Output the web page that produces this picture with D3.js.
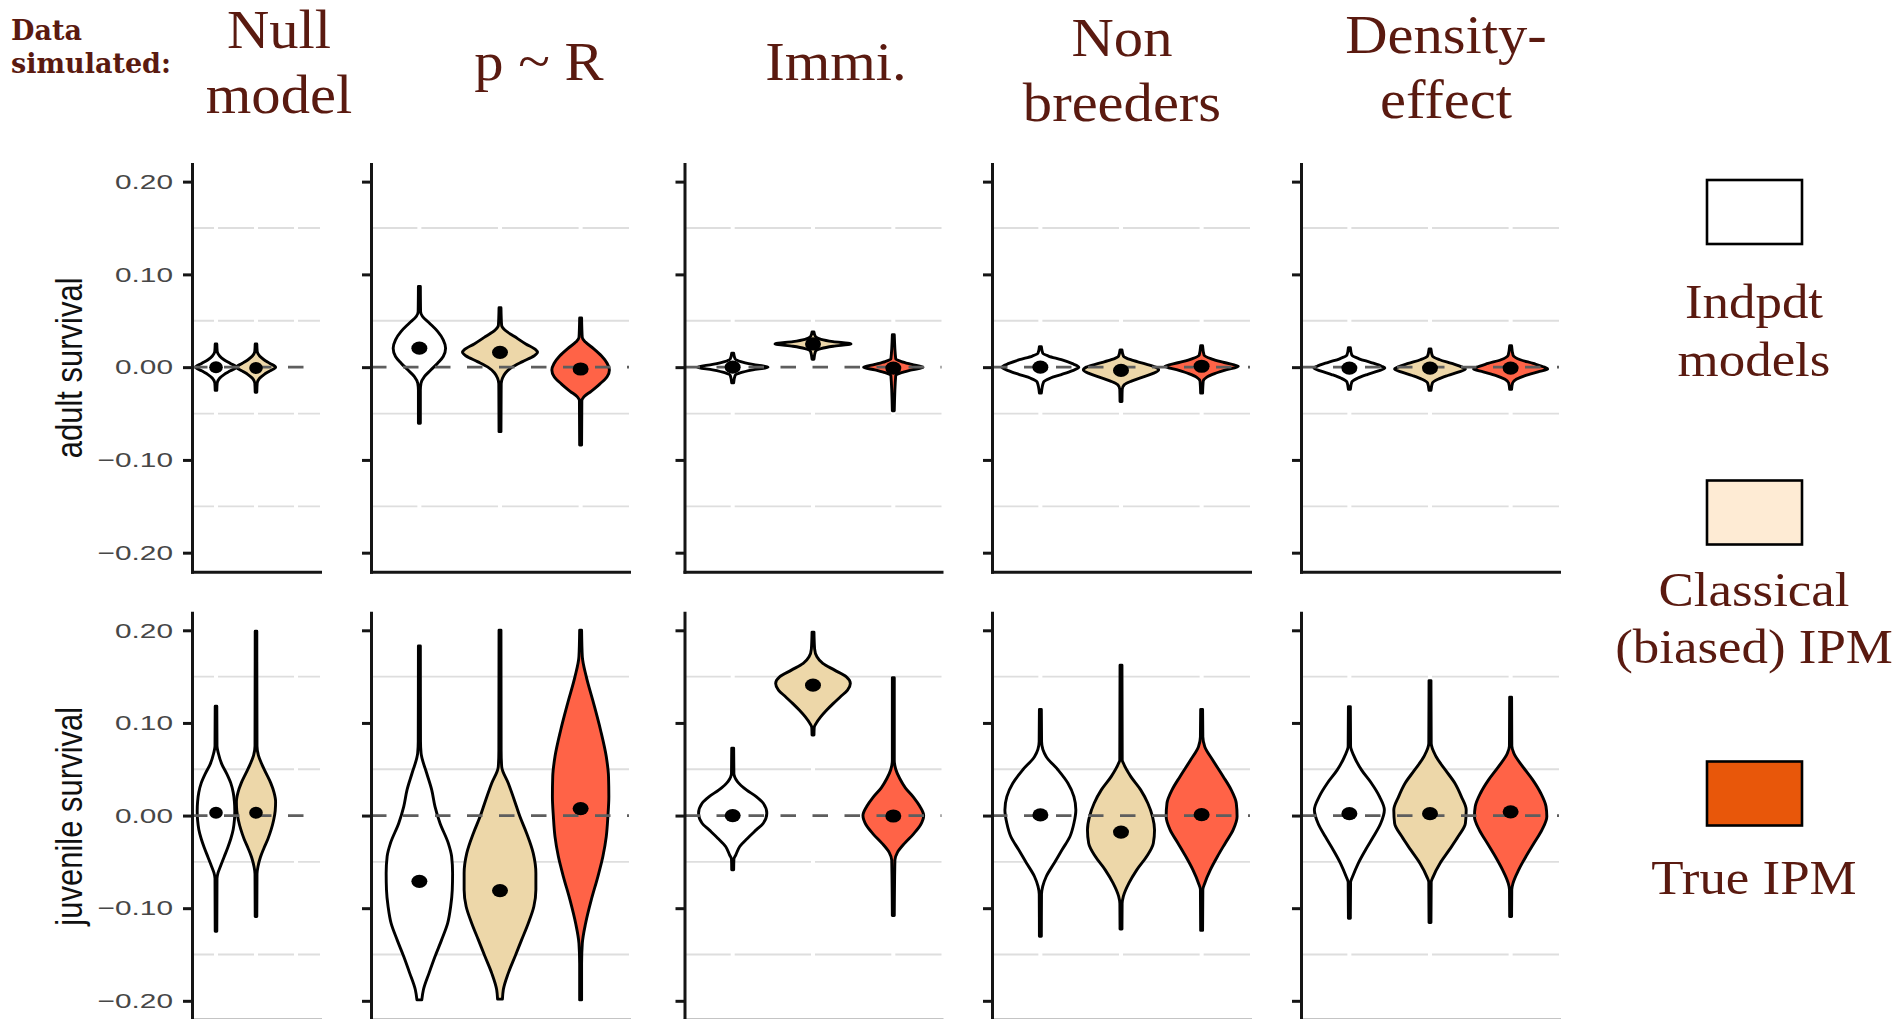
<!DOCTYPE html>
<html><head><meta charset="utf-8">
<script src="https://cdn.jsdelivr.net/npm/d3@7"></script>
<style>body{margin:0;background:#fff;overflow:hidden} svg{display:block}</style>
</head><body>
<svg id="chart" width="1901" height="1019"></svg>
<script>
// ---------------- DATA ----------------
const scenarioTitles = [["Null","model"],["p ~ R"],["Immi."],["Non","breeders"],["Density-","effect"]];
const models = ["Indpdt models","Classical (biased) IPM","True IPM"];
const legendLabels = [["Indpdt","models"],["Classical","(biased) IPM"],["True IPM"]];
const rowTitles = ["adult survival","juvenile survival"];
const yTicks = [-0.2,-0.1,0,0.1,0.2];
const gridValues = [-0.15,-0.05,0.05,0.15];

// medians (black dots), per scenario, per model
const adultMedians = [
  [0.0, -0.001],
  [0.0205, 0.016, -0.002],
  [0.0, 0.025, -0.001],
  [0.0, -0.0035, 0.001],
  [-0.001, -0.001, -0.001]
];
const juvenileMedians = [
  [0.003, 0.003],
  [-0.071, -0.081, 0.0075],
  [0.0, 0.1408, -0.0005],
  [0.0007, -0.0178, 0.001],
  [0.002, 0.002, 0.004]
];

// violin outlines: [value, half-width in category steps]
const adultProfiles = [
  [ // Null model
    [[0.025,0.02],[0.017,0.03],[0.012,0.09],[0.008,0.2],[0.004,0.36],[0,0.51],[-0.004,0.36],[-0.008,0.2],[-0.012,0.09],[-0.017,0.03],[-0.025,0.02]],
    [[0.025,0.02],[0.017,0.03],[0.012,0.09],[0.008,0.2],[0.004,0.35],[0,0.49],[-0.004,0.35],[-0.008,0.2],[-0.012,0.09],[-0.017,0.03],[-0.027,0.02]]
  ],
  [ // p ~ R
    [[0.087,0.012],[0.06,0.015],[0.0548,0.037],[0.0476,0.123],[0.0386,0.226],[0.0295,0.296],[0.0205,0.325],[0.0115,0.296],[0.0043,0.226],[-0.0029,0.144],[-0.0101,0.062],[-0.0173,0.02],[-0.025,0.012],[-0.0605,0.012]],
    [[0.064,0.012],[0.045,0.02],[0.04,0.06],[0.033,0.18],[0.025,0.32],[0.019,0.44],[0.016,0.465],[0.012,0.42],[0.006,0.28],[0.0,0.15],[-0.006,0.07],[-0.012,0.03],[-0.018,0.015],[-0.0695,0.012]],
    [[0.053,0.012],[0.032,0.02],[0.027,0.06],[0.02,0.16],[0.012,0.26],[0.004,0.33],[-0.003,0.357],[-0.01,0.33],[-0.018,0.24],[-0.026,0.13],[-0.032,0.04],[-0.036,0.015],[-0.084,0.012]]
  ],
  [ // Immi.
    [[0.015,0.012],[0.009,0.03],[0.006,0.1],[0.003,0.25],[0,0.44],[-0.003,0.25],[-0.006,0.1],[-0.009,0.03],[-0.017,0.012]],
    [[0.038,0.012],[0.033,0.03],[0.030,0.1],[0.0275,0.25],[0.025,0.473],[0.0225,0.25],[0.02,0.1],[0.017,0.03],[0.0086,0.012]],
    [[0.035,0.012],[0.009,0.03],[0.006,0.1],[0.003,0.23],[0,0.37],[-0.003,0.23],[-0.006,0.1],[-0.009,0.03],[-0.047,0.012]]
  ],
  [ // Non breeders
    [[0.022,0.012],[0.015,0.03],[0.012,0.1],[0.008,0.26],[0.004,0.39],[0.0,0.477],[-0.004,0.39],[-0.008,0.26],[-0.012,0.12],[-0.016,0.04],[-0.028,0.012]],
    [[0.0185,0.012],[0.012,0.03],[0.008,0.12],[0.004,0.28],[0.0,0.43],[-0.003,0.467],[-0.007,0.39],[-0.011,0.26],[-0.015,0.13],[-0.019,0.04],[-0.024,0.015],[-0.037,0.012]],
    [[0.023,0.012],[0.013,0.03],[0.009,0.12],[0.005,0.28],[0.001,0.455],[-0.003,0.3],[-0.007,0.16],[-0.011,0.06],[-0.015,0.02],[-0.028,0.012]]
  ],
  [ // Density-effect
    [[0.021,0.012],[0.013,0.03],[0.009,0.12],[0.005,0.27],[0.001,0.40],[-0.001,0.44],[-0.004,0.36],[-0.008,0.22],[-0.012,0.1],[-0.016,0.03],[-0.024,0.012]],
    [[0.0195,0.012],[0.012,0.03],[0.008,0.12],[0.004,0.27],[0.0,0.40],[-0.002,0.44],[-0.005,0.36],[-0.009,0.22],[-0.013,0.1],[-0.017,0.03],[-0.025,0.012]],
    [[0.023,0.012],[0.013,0.03],[0.008,0.12],[0.004,0.28],[0.0,0.42],[-0.002,0.46],[-0.005,0.34],[-0.009,0.18],[-0.013,0.07],[-0.017,0.025],[-0.024,0.012]]
  ]
];
const juvenileProfiles = [
  [ // Null model
    [[0.118,0.02],[0.075,0.025],[0.067,0.06],[0.055,0.15],[0.045,0.27],[0.035,0.37],[0.025,0.43],[0.015,0.46],[0.005,0.47],[-0.005,0.46],[-0.015,0.43],[-0.025,0.37],[-0.035,0.29],[-0.045,0.2],[-0.055,0.11],[-0.062,0.05],[-0.068,0.025],[-0.125,0.02]],
    [[0.199,0.02],[0.075,0.025],[0.065,0.06],[0.055,0.15],[0.045,0.26],[0.035,0.37],[0.025,0.45],[0.015,0.49],[0.005,0.48],[-0.005,0.44],[-0.015,0.38],[-0.025,0.3],[-0.035,0.2],[-0.045,0.11],[-0.055,0.05],[-0.063,0.025],[-0.109,0.02]]
  ],
  [ // p ~ R
    [[0.183,0.012],[0.08,0.014],[0.0673,0.021],[0.0457,0.091],[0.0277,0.153],[0.0097,0.194],[-0.0083,0.256],[-0.0299,0.359],[-0.0442,0.4],[-0.0622,0.412],[-0.0802,0.408],[-0.0982,0.388],[-0.1162,0.351],[-0.1342,0.276],[-0.1522,0.194],[-0.1701,0.12],[-0.1881,0.05],[-0.199,0.03]],
    [[0.2,0.012],[0.07,0.014],[0.0529,0.021],[0.0349,0.103],[0.0169,0.177],[-0.0011,0.247],[-0.0191,0.33],[-0.0406,0.412],[-0.0622,0.445],[-0.0802,0.445],[-0.0982,0.42],[-0.1162,0.351],[-0.1342,0.268],[-0.1522,0.186],[-0.1701,0.103],[-0.1881,0.041],[-0.1982,0.03]],
    [[0.2,0.012],[0.1716,0.021],[0.15,0.07],[0.1212,0.161],[0.0924,0.247],[0.0637,0.318],[0.0421,0.346],[0.0205,0.35],[-0.0011,0.338],[-0.0227,0.318],[-0.0442,0.276],[-0.0658,0.214],[-0.091,0.132],[-0.1162,0.062],[-0.1378,0.021],[-0.16,0.012],[-0.199,0.012]]
  ],
  [ // Immi.
    [[0.0726,0.012],[0.045,0.015],[0.042,0.024],[0.0367,0.059],[0.0277,0.171],[0.0205,0.293],[0.0133,0.381],[0.0025,0.425],[-0.0083,0.381],[-0.0155,0.293],[-0.0244,0.186],[-0.0334,0.088],[-0.0424,0.039],[-0.047,0.015],[-0.0586,0.012]],
    [[0.198,0.012],[0.18,0.02],[0.1714,0.049],[0.1642,0.122],[0.157,0.269],[0.1498,0.416],[0.1427,0.465],[0.1355,0.43],[0.1283,0.342],[0.1211,0.254],[0.1139,0.171],[0.1067,0.098],[0.0995,0.039],[0.095,0.015],[0.087,0.012]],
    [[0.1488,0.012],[0.06,0.012],[0.05,0.03],[0.04,0.08],[0.03,0.15],[0.02,0.25],[0.01,0.33],[0.0,0.378],[-0.01,0.34],[-0.02,0.25],[-0.03,0.14],[-0.04,0.05],[-0.048,0.02],[-0.108,0.012]]
  ],
  [ // Non breeders
    [[0.1146,0.012],[0.08,0.015],[0.0636,0.073],[0.0492,0.22],[0.0349,0.342],[0.0205,0.416],[0.0061,0.44],[-0.0083,0.416],[-0.0226,0.367],[-0.037,0.269],[-0.0514,0.171],[-0.0658,0.073],[-0.0765,0.029],[-0.085,0.014],[-0.1304,0.012]],
    [[0.1624,0.012],[0.06,0.015],[0.0564,0.03],[0.042,0.122],[0.0277,0.244],[0.0133,0.333],[-0.0011,0.391],[-0.0155,0.416],[-0.0298,0.401],[-0.0442,0.318],[-0.0586,0.196],[-0.073,0.098],[-0.0873,0.029],[-0.095,0.014],[-0.1225,0.012]],
    [[0.1146,0.012],[0.085,0.015],[0.0744,0.039],[0.06,0.137],[0.042,0.269],[0.0277,0.367],[0.0133,0.43],[-0.0011,0.44],[-0.0155,0.391],[-0.0298,0.293],[-0.0442,0.196],[-0.0586,0.108],[-0.073,0.039],[-0.08,0.015],[-0.124,0.012]]
  ],
  [ // Density-effect
    [[0.1176,0.012],[0.075,0.015],[0.0637,0.06],[0.0493,0.15],[0.0349,0.274],[0.0205,0.374],[0.0061,0.434],[-0.0083,0.389],[-0.0227,0.299],[-0.0371,0.2],[-0.0515,0.11],[-0.0659,0.04],[-0.072,0.015],[-0.1108,0.012]],
    [[0.1457,0.012],[0.078,0.015],[0.0637,0.075],[0.0493,0.19],[0.0349,0.309],[0.0205,0.389],[0.0061,0.449],[-0.0083,0.439],[-0.0227,0.349],[-0.0371,0.239],[-0.0515,0.125],[-0.0659,0.04],[-0.072,0.015],[-0.1155,0.012]],
    [[0.1277,0.012],[0.075,0.015],[0.0673,0.04],[0.0529,0.15],[0.0385,0.274],[0.0241,0.374],[0.0097,0.439],[-0.0011,0.449],[-0.0155,0.389],[-0.0299,0.289],[-0.0442,0.19],[-0.0586,0.1],[-0.073,0.03],[-0.08,0.014],[-0.109,0.012]]
  ]
];

// ---------------- STYLE / LAYOUT ----------------
const violinFills = ["#FFFFFF","#EDD7A9","#FF6347"];
const legendFills = ["#FFFFFF","#FEEBD4","#E8570A"];
const titleColor = "#5a1a10";
const panelX = [[192,320],[371,629],[684.5,941.5],[992,1250],[1301,1559]];
const rowY = [[164,571.7],[612.7,1019.8]];
const yDomain = [-0.2205, 0.219];

const svg = d3.select("#chart");
svg.append("rect").attr("width",1901).attr("height",1019).attr("fill","#fff");

const rows = [
  {medians: adultMedians, profiles: adultProfiles},
  {medians: juvenileMedians, profiles: juvenileProfiles}
];

rows.forEach((row, r) => {
  const y = d3.scaleLinear().domain(yDomain).range([rowY[r][1], rowY[r][0]]);
  panelX.forEach((px, p) => {
    const x = d3.scalePoint().domain(models).range(px).padding(0.6);
    const unit = x.step();
    const g = svg.append("g");
    // grid
    g.selectAll("line.grid").data(gridValues).join("line")
      .attr("x1", px[0]).attr("x2", px[1])
      .attr("y1", d => y(d)).attr("y2", d => y(d))
      .attr("stroke", "#dedede").attr("stroke-width", 1.8);
    g.selectAll("line.gap").data(models).join("line")
      .attr("x1", d => x(d)).attr("x2", d => x(d))
      .attr("y1", rowY[r][0]).attr("y2", rowY[r][1])
      .attr("stroke", "#fff").attr("stroke-width", 4);
    // violins
    const profs = row.profiles[p];
    profs.forEach((prof, i) => {
      const cx = x(models[i]);
      const area = d3.area()
        .y(d => y(d[0]))
        .x0(d => cx - d[1]*unit)
        .x1(d => cx + d[1]*unit)
        .curve(d3.curveMonotoneY);
      g.append("path").attr("d", area(prof))
        .attr("fill", violinFills[i]).attr("stroke", "#000")
        .attr("stroke-width", 2.9).attr("stroke-linejoin","round");
    });
    // zero line
    g.append("line").attr("x1", px[0]).attr("x2", px[1])
      .attr("y1", y(0)).attr("y2", y(0))
      .attr("stroke", "#5e5e5e").attr("stroke-width", 2.8)
      .attr("stroke-dasharray", "15.5,16.5");
    // medians
    const rx = p === 0 ? 6.8 : 8, ry = p === 0 ? 6 : 6.6;
    g.selectAll("ellipse").data(row.medians[p]).join("ellipse")
      .attr("cx", (d,i) => x(models[i])).attr("cy", d => y(d))
      .attr("rx", rx).attr("ry", ry).attr("fill", "#000");
    // axes
    const ya = g.append("g").attr("transform", `translate(${px[0]},0)`)
      .call(d3.axisLeft(y).tickValues(yTicks).tickSize(9).tickSizeOuter(0).tickPadding(4.4)
        .tickFormat(p === 0 ? d3.format(".2f") : () => ""))
      .attr("font-family", "'Liberation Sans', Arial, sans-serif").attr("font-size", 21);
    ya.select(".domain").attr("stroke", "#151515").attr("stroke-width", 3).attr("stroke-linecap","square");
    ya.selectAll(".tick line").attr("stroke", "#151515").attr("stroke-width", 3);
    ya.selectAll(".tick text").attr("fill", "#474747").attr("transform", "scale(1.42,1)");
    const xa = g.append("g").attr("transform", `translate(0,${rowY[r][1]})`)
      .call(d3.axisBottom(x).tickValues([]).tickSizeOuter(0));
    xa.select(".domain").attr("stroke", "#151515").attr("stroke-width", 3).attr("stroke-linecap","square");
  });
  // row title
  svg.append("text")
    .attr("transform", `translate(82,${(rowY[r][0]+rowY[r][1])/2}) scale(1.2,1) rotate(-90)`)
    .attr("text-anchor", "middle")
    .attr("font-family", "'Liberation Sans', Arial, sans-serif").attr("font-size", 31)
    .attr("fill", "#111").text(rowTitles[r]);
});

// "Data simulated:"
const ds = svg.append("text").attr("font-family", "'DejaVu Serif', serif").attr("font-weight", "bold")
  .attr("font-size", 27).attr("fill", titleColor);
ds.append("tspan").attr("x", 11).attr("y", 40).text("Data");
ds.append("tspan").attr("x", 11).attr("y", 73.3).text("simulated:");

// scenario titles
const titlePos = [[279,48],[539,80],[836,80],[1122,56],[1446,53.3]];
scenarioTitles.forEach((lines, i) => {
  const t = svg.append("text")
    .attr("transform", `translate(${titlePos[i][0]},${titlePos[i][1]}) scale(1.065,1)`)
    .attr("text-anchor", "middle")
    .attr("font-family", "'Liberation Serif', 'Times New Roman', serif").attr("font-size", 55)
    .attr("fill", titleColor);
  lines.forEach((l, k) => t.append("tspan").attr("x", 0).attr("y", k*65).text(l));
});

// legend
const legendBoxY = [180, 480.5, 761.5];
const legendTextY = [318.3, 606, 894];
legendLabels.forEach((lines, i) => {
  svg.append("rect").attr("x", 1707).attr("y", legendBoxY[i]).attr("width", 95).attr("height", 64)
    .attr("fill", legendFills[i]).attr("stroke", "#000").attr("stroke-width", 2.6);
  const t = svg.append("text")
    .attr("transform", `translate(1754,${legendTextY[i]}) scale(1.08,1)`)
    .attr("text-anchor", "middle")
    .attr("font-family", "'Liberation Serif', 'Times New Roman', serif").attr("font-size", 49)
    .attr("fill", titleColor);
  lines.forEach((l, k) => t.append("tspan").attr("x", 0).attr("y", k*57.5).text(l));
});
</script>
</body></html>
